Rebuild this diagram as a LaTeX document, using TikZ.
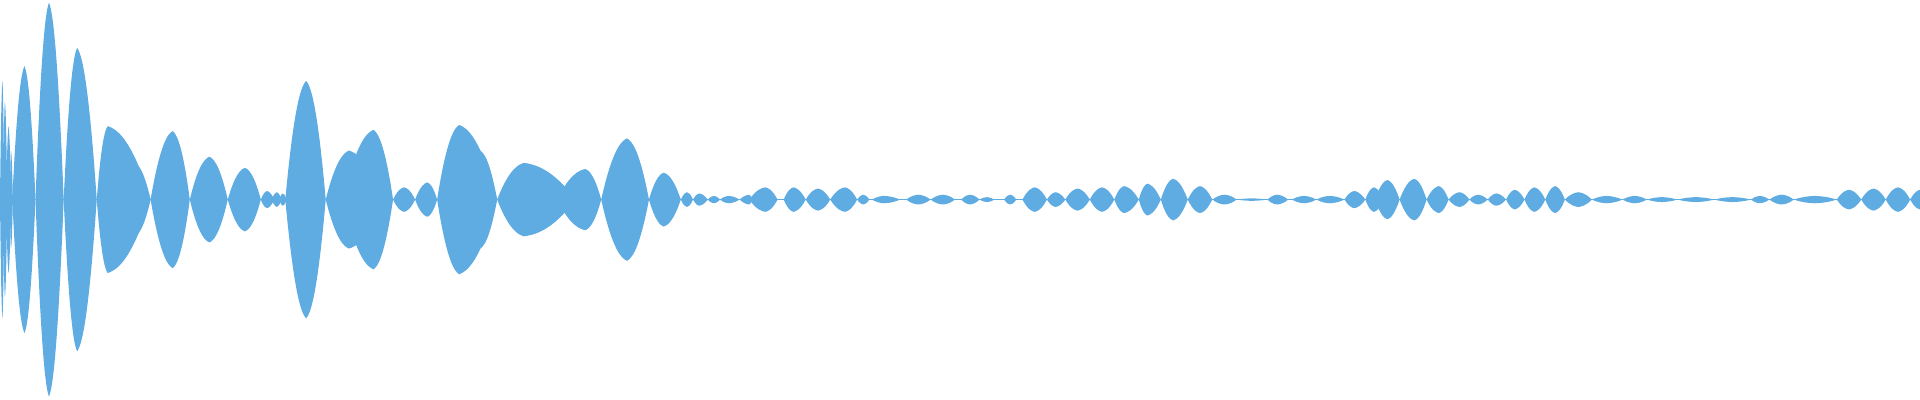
\documentclass[tikz,border=0pt]{standalone}
\begin{document}
\begin{tikzpicture}[x=1.2245pt,y=1.2245pt]
\definecolor{wavec}{RGB}{94,172,226}
\tikzset{wave/.style={fill=wavec}}
\useasboundingbox (0,-163) rectangle (1568,163);
\fill[wave] (0,-0.6) rectangle (1568,0.6);
\foreach \a/\p/\b/\A in {
0/2/3.5/97, 2.5/4/6/80, 5/7/9/60, 8/9/10.5/40,
10/20/29/109, 29/40/52/161, 52/63/79/124,
79/88/123/60, 100/110/123/30,
123/141/155/56, 155/171/186/35, 186/200/213/26,
213/218/224/7, 222/226/230/6, 228/231/234/5,
233/250/266/97, 266/285/312/40, 280/305/321/57,
321/330/339/10, 339/349/357/14, 357/375/406/61, 370/392/406/40,
406/428/470/30, 455/478/491/25,
491/512/530/50, 530/542/556/22, 556/561/566/6,
566/571/578/5, 578/583/588/3, 588/595/604/3, 604/612/614/4, 612/625/635/10,
640/648/658/10, 658/668/678/9, 678/690/700/10, 700/705/710/4, 712/722/735/3,
740/750/760/4, 760/770/780/4, 785/792/800/4, 800/806/812/2, 820/825/830/4,
835/845/855/10, 855/862/870/6, 870/880/890/9, 890/900/910/10, 910/918/930/11,
930/937/948/13, 948/958/970/17, 970/980/990/11, 990/1000/1010/4, 1010/1022/1035/1,
1035/1043/1052/4, 1055/1065/1075/3, 1075/1086/1098/3, 1098/1106/1115/7,
1115/1122/1130/10, 1123/1133/1143/16, 1143/1155/1165/17, 1165/1175/1183/11,
1183/1192/1200/6, 1200/1207/1215/4, 1215/1222/1230/5, 1230/1237/1245/8,
1245/1253/1262/10, 1262/1270/1278/11, 1278/1289/1300/6, 1300/1312/1325/3,
1325/1335/1345/3, 1345/1357/1370/2, 1370/1385/1400/2, 1400/1415/1430/2,
1430/1437/1445/3, 1445/1455/1465/4, 1465/1482/1500/3, 1500/1510/1520/8,
1520/1530/1540/9, 1540/1550/1560/10, 1560/1568/1576/8}
{
\fill[wave] (\a,0)
 .. controls ({\a+0.45*(\p-\a)},0.85*\A) and ({\p-0.2*(\p-\a)},0.96*\A) .. (\p,\A)
 .. controls ({\p+0.2*(\b-\p)},0.96*\A) and ({\b-0.45*(\b-\p)},0.85*\A) .. (\b,0)
 .. controls ({\b-0.45*(\b-\p)},-0.85*\A) and ({\p+0.2*(\b-\p)},-0.96*\A) .. (\p,-\A)
 .. controls ({\p-0.2*(\p-\a)},-0.96*\A) and ({\a+0.45*(\p-\a)},-0.85*\A) .. (\a,0) -- cycle;
}
\end{tikzpicture}
\end{document}
